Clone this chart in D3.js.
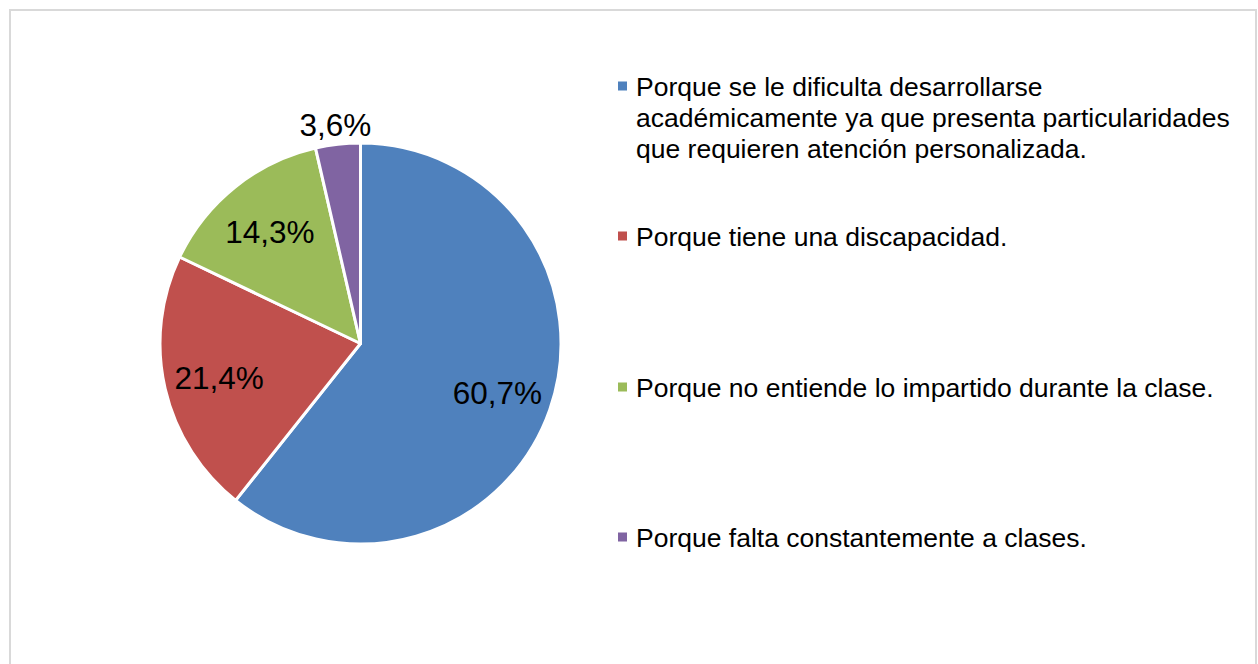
<!DOCTYPE html>
<html><head><meta charset="utf-8">
<script src="https://cdn.jsdelivr.net/npm/d3@7"></script>
<style>body{margin:0;background:#fff;} svg{display:block;}</style>
</head><body>
<svg id="c" width="1258" height="664"></svg>
<script>
const categories = [
  ["Porque se le dificulta desarrollarse", "académicamente ya que presenta particularidades", "que requieren atención personalizada."],
  ["Porque tiene una discapacidad."],
  ["Porque no entiende lo impartido durante la clase."],
  ["Porque falta constantemente a clases."]
];
const values = [60.7, 21.4, 14.3, 3.6];
const labels = ["60,7%", "21,4%", "14,3%", "3,6%"];
const colors = ["#4F81BD", "#C0504D", "#9BBB59", "#8064A2"];

const svg = d3.select("#c");
svg.append("rect").attr("x", 10).attr("y", 10).attr("width", 1246).attr("height", 670)
  .attr("fill", "#fff").attr("stroke", "#d9d9d9").attr("stroke-width", 2);

const cx = 360.5, cy = 343.5, R = 200.5;
const g = svg.append("g").attr("transform", `translate(${cx},${cy})`);
const pie = d3.pie().sort(null).value(d => d);
const arcs = pie(values);
const arc = d3.arc().innerRadius(0).outerRadius(R);
g.selectAll("path").data(arcs).enter().append("path")
  .attr("d", arc).attr("fill", (d, i) => colors[i])
  .attr("stroke", "#fff").attr("stroke-width", 3).attr("stroke-linejoin", "round");

const inner = d3.arc().innerRadius(145).outerRadius(145);
const outer = d3.arc().innerRadius(222).outerRadius(222);
g.selectAll("text.lbl").data(arcs).enter().append("text")
  .attr("class", "lbl")
  .attr("transform", (d, i) => `translate(${(i === 3 ? outer : inner).centroid(d)})`)
  .attr("text-anchor", "middle").attr("dy", "0.4em")
  .style("font-family", "'Liberation Sans', Arial, sans-serif").style("font-size", "31.5px")
  .attr("fill", "#000").text((d, i) => labels[i]);

const legY = [86, 236, 387, 537];
const lg = svg.append("g");
categories.forEach((lines, i) => {
  lg.append("rect").attr("x", 618).attr("y", legY[i] - 4.5).attr("width", 9).attr("height", 9).attr("fill", colors[i]);
  const t = lg.append("text").attr("x", 636).attr("y", legY[i])
    .style("font-family", "'Liberation Sans', Arial, sans-serif").style("font-size", "26.5px").attr("fill", "#000");
  lines.forEach((l, j) => t.append("tspan").attr("x", 636).attr("dy", j === 0 ? "0.36em" : "31px").text(l));
});
</script>
</body></html>
